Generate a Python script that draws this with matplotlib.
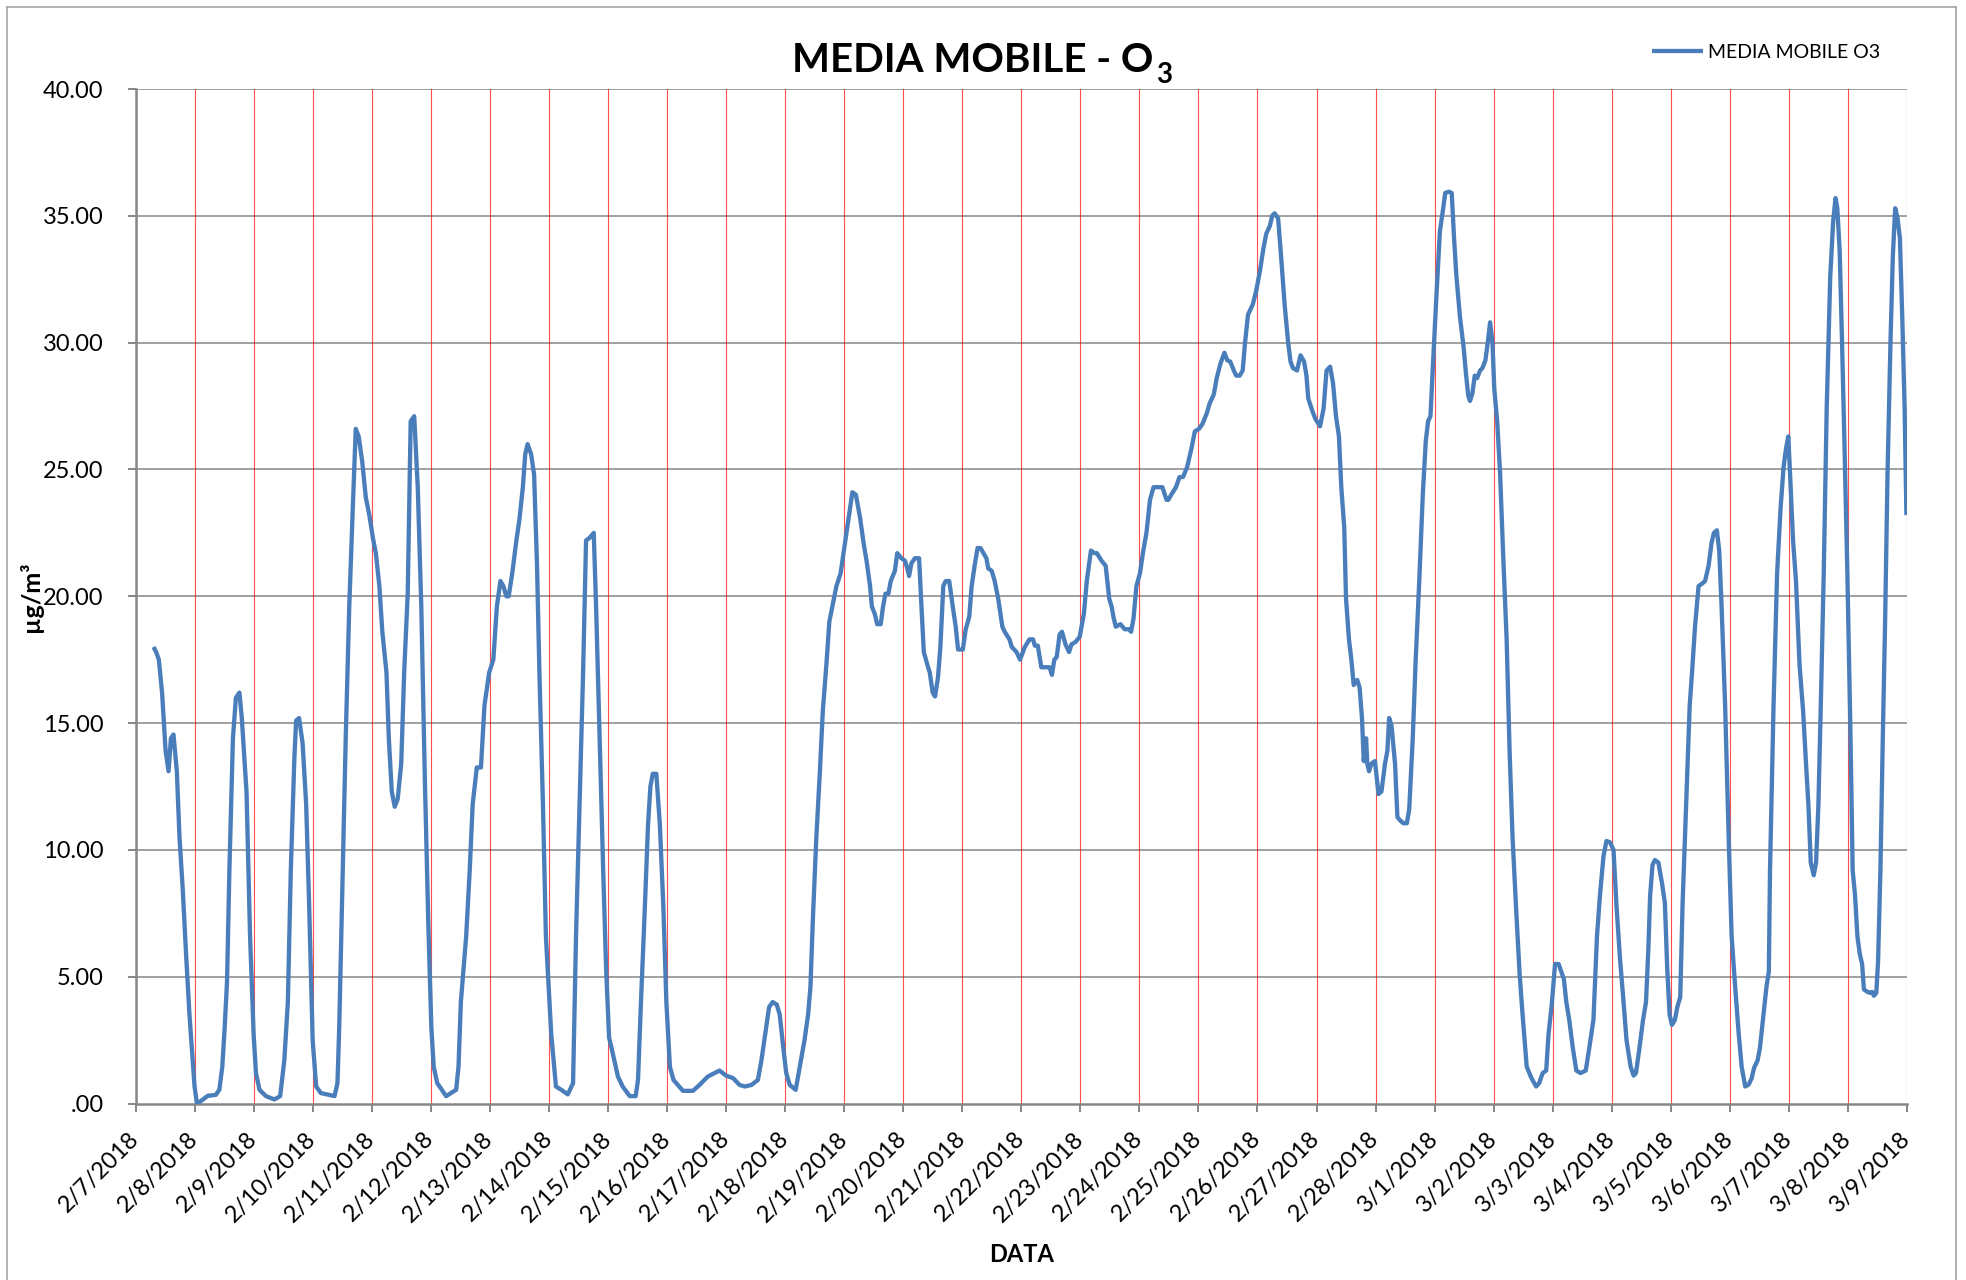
import matplotlib
matplotlib.use("Agg")
import matplotlib.pyplot as plt
from matplotlib.lines import Line2D
import pandas as pd

# ---------------- data ----------------
start_date = "2018-02-07"
# time offsets in days from 2/7/2018 00:00
day_offset = [
    0.305, 0.35, 0.395, 0.45, 0.51, 0.56, 0.60, 0.643, 0.70, 0.745, 0.80, 0.857, 0.914, 0.96, 1.0, 1.04,
    1.11, 1.22, 1.36, 1.42, 1.47, 1.51, 1.55, 1.59, 1.65, 1.70, 1.76, 1.80, 1.88, 1.94, 2.0, 2.04,
    2.10, 2.21, 2.35, 2.45, 2.52, 2.58, 2.63, 2.69, 2.72, 2.77, 2.83, 2.89, 2.94, 3.0, 3.06, 3.14,
    3.28, 3.37, 3.42, 3.45, 3.51, 3.56, 3.62, 3.68, 3.73, 3.78, 3.84, 3.90, 3.96, 4.02, 4.07, 4.13,
    4.18, 4.25, 4.29, 4.34, 4.39, 4.44, 4.50, 4.55, 4.61, 4.66, 4.72, 4.78, 4.84, 4.90, 4.96, 5.01,
    5.05, 5.11, 5.15, 5.26, 5.34, 5.43, 5.47, 5.51, 5.60, 5.66, 5.71, 5.78, 5.85, 5.91, 5.99, 6.06,
    6.12, 6.18, 6.23, 6.28, 6.32, 6.38, 6.45, 6.50, 6.56, 6.60, 6.64, 6.70, 6.75, 6.80, 6.84, 6.90,
    6.95, 7.04, 7.12, 7.21, 7.32, 7.41, 7.46, 7.52, 7.58, 7.63, 7.69, 7.76, 7.80, 7.86, 7.92, 7.97,
    8.02, 8.08, 8.17, 8.25, 8.37, 8.47, 8.51, 8.56, 8.62, 8.68, 8.72, 8.76, 8.82, 8.88, 8.94, 8.99,
    9.05, 9.11, 9.27, 9.44, 9.55, 9.69, 9.89, 10.0, 10.12, 10.23, 10.32, 10.43, 10.54, 10.60, 10.65, 10.73,
    10.79, 10.86, 10.91, 10.97, 11.02, 11.08, 11.18, 11.25, 11.33, 11.39, 11.43, 11.47, 11.53, 11.59, 11.64, 11.70,
    11.75, 11.81, 11.87, 11.94, 11.99, 12.07, 12.14, 12.20, 12.27, 12.33, 12.38, 12.44, 12.47, 12.52, 12.56, 12.62,
    12.66, 12.70, 12.75, 12.79, 12.86, 12.90, 12.97, 13.03, 13.07, 13.10, 13.14, 13.20, 13.27, 13.31, 13.35, 13.41,
    13.45, 13.50, 13.54, 13.59, 13.63, 13.68, 13.72, 13.78, 13.84, 13.89, 13.93, 14.01, 14.06, 14.12, 14.16, 14.21,
    14.26, 14.31, 14.36, 14.41, 14.44, 14.50, 14.55, 14.61, 14.68, 14.72, 14.80, 14.84, 14.92, 14.98, 15.06, 15.14,
    15.20, 15.23, 15.28, 15.34, 15.42, 15.48, 15.52, 15.56, 15.60, 15.65, 15.69, 15.75, 15.81, 15.85, 15.92, 15.99,
    16.06, 16.11, 16.18, 16.24, 16.28, 16.36, 16.43, 16.49, 16.53, 16.56, 16.60, 16.68, 16.75, 16.82, 16.86, 16.90,
    16.95, 17.01, 17.06, 17.12, 17.18, 17.24, 17.32, 17.39, 17.46, 17.49, 17.54, 17.62, 17.68, 17.74, 17.81, 17.88,
    17.94, 18.01, 18.07, 18.14, 18.19, 18.26, 18.31, 18.37, 18.44, 18.49, 18.54, 18.60, 18.64, 18.70, 18.75, 18.79,
    18.84, 18.92, 18.98, 19.04, 19.10, 19.15, 19.21, 19.25, 19.29, 19.35, 19.41, 19.46, 19.52, 19.56, 19.60, 19.67,
    19.73, 19.79, 19.83, 19.86, 19.93, 19.98, 20.06, 20.12, 20.17, 20.23, 20.28, 20.33, 20.38, 20.42, 20.47, 20.50,
    20.55, 20.59, 20.63, 20.69, 20.73, 20.77, 20.80, 20.84, 20.86, 20.89, 20.93, 20.99, 21.05, 21.10, 21.16, 21.20,
    21.23, 21.27, 21.33, 21.37, 21.40, 21.47, 21.53, 21.57, 21.63, 21.68, 21.74, 21.80, 21.85, 21.89, 21.93, 21.98,
    22.03, 22.09, 22.14, 22.18, 22.24, 22.29, 22.33, 22.37, 22.43, 22.49, 22.53, 22.57, 22.60, 22.64, 22.68, 22.72,
    22.77, 22.81, 22.86, 22.90, 22.94, 22.98, 23.01, 23.06, 23.11, 23.16, 23.22, 23.27, 23.32, 23.38, 23.44, 23.49,
    23.56, 23.64, 23.72, 23.77, 23.83, 23.89, 23.93, 23.98, 24.04, 24.10, 24.19, 24.23, 24.28, 24.34, 24.40, 24.47,
    24.56, 24.62, 24.69, 24.75, 24.80, 24.86, 24.91, 24.97, 25.03, 25.08, 25.14, 25.20, 25.25, 25.32, 25.37, 25.41,
    25.47, 25.53, 25.58, 25.62, 25.65, 25.69, 25.73, 25.79, 25.85, 25.90, 25.94, 25.98, 26.02, 26.07, 26.11, 26.16,
    26.20, 26.26, 26.32, 26.36, 26.41, 26.47, 26.53, 26.58, 26.64, 26.69, 26.73, 26.78, 26.82, 26.86, 26.92, 26.98,
    27.03, 27.09, 27.15, 27.20, 27.26, 27.32, 27.37, 27.41, 27.47, 27.51, 27.57, 27.62, 27.66, 27.68, 27.74, 27.80,
    27.86, 27.91, 27.95, 27.99, 28.03, 28.07, 28.12, 28.18, 28.24, 28.29, 28.33, 28.37, 28.42, 28.46, 28.50, 28.54,
    28.59, 28.64, 28.70, 28.75, 28.79, 28.82, 28.86, 28.90, 28.94, 28.99, 29.04, 29.08, 29.12, 29.16, 29.20, 29.24,
    29.27, 29.33, 29.38, 29.41, 29.44, 29.48, 29.51, 29.55, 29.59, 29.63, 29.67, 29.72, 29.76, 29.80, 29.84, 29.88,
    29.92, 29.96, 29.99,
]
o3_moving_avg = [
    18.0, 17.8, 17.5, 16.2, 13.9, 13.1, 14.4, 14.55, 13.1, 10.5, 8.45, 5.86, 3.5, 1.97, 0.67, 0.0,
    0.1, 0.3, 0.34, 0.54, 1.45, 3.0, 4.8, 9.2, 14.4, 16.0, 16.2, 15.2, 12.3, 6.6, 2.75, 1.2,
    0.54, 0.29, 0.16, 0.29, 1.7, 4.0, 9.2, 13.6, 15.1, 15.2, 14.2, 11.8, 7.9, 2.5, 0.67, 0.41,
    0.34, 0.29, 0.8, 3.0, 9.2, 14.4, 19.6, 23.5, 26.6, 26.3, 25.3, 23.9, 23.2, 22.3, 21.7, 20.4,
    18.6, 17.0, 14.4, 12.3, 11.7, 12.0, 13.4, 17.0, 20.1, 26.9, 27.1, 24.3, 19.6, 12.8, 7.0, 3.0,
    1.45, 0.8, 0.67, 0.29, 0.41, 0.54, 1.45, 4.0, 6.6, 9.2, 11.8, 13.25, 13.25, 15.7, 17.0, 17.5,
    19.6, 20.6, 20.4, 20.0, 20.0, 20.9, 22.2, 23.0, 24.3, 25.6, 26.0, 25.6, 24.8, 21.2, 17.0, 11.8,
    6.6, 2.75, 0.67, 0.54, 0.36, 0.8, 6.6, 11.8, 17.0, 22.2, 22.3, 22.5, 19.6, 14.4, 9.2, 5.3,
    2.6, 2.0, 1.06, 0.67, 0.29, 0.29, 0.93, 4.0, 7.4, 11.0, 12.5, 13.0, 13.0, 11.0, 7.7, 4.0,
    1.45, 0.93, 0.5, 0.5, 0.73, 1.06, 1.3, 1.1, 1.0, 0.73, 0.67, 0.73, 0.93, 1.7, 2.5, 3.8,
    4.0, 3.9, 3.5, 2.2, 1.2, 0.73, 0.54, 1.45, 2.5, 3.5, 4.6, 7.2, 10.5, 13.1, 15.5, 17.3,
    19.0, 19.7, 20.4, 20.9, 21.7, 23.0, 24.1, 24.0, 23.1, 22.1, 21.4, 20.4, 19.6, 19.3, 18.9, 18.9,
    19.6, 20.1, 20.1, 20.6, 21.0, 21.7, 21.5, 21.4, 21.1, 20.8, 21.3, 21.5, 21.5, 19.6, 17.8, 17.3,
    17.0, 16.2, 16.05, 16.8, 18.0, 20.4, 20.6, 20.6, 19.6, 18.8, 17.9, 17.9, 18.7, 19.2, 20.4, 21.2,
    21.9, 21.9, 21.7, 21.5, 21.1, 21.0, 20.6, 19.9, 18.8, 18.6, 18.3, 18.0, 17.8, 17.5, 18.0, 18.3,
    18.3, 18.05, 18.05, 17.2, 17.2, 17.2, 16.9, 17.5, 17.6, 18.5, 18.6, 18.1, 17.8, 18.1, 18.2, 18.4,
    19.3, 20.6, 21.8, 21.7, 21.7, 21.4, 21.2, 19.9, 19.6, 19.2, 18.8, 18.9, 18.7, 18.7, 18.6, 19.1,
    20.4, 20.9, 21.7, 22.5, 23.8, 24.3, 24.3, 24.3, 23.8, 23.8, 24.0, 24.3, 24.7, 24.7, 25.1, 25.8,
    26.5, 26.6, 26.8, 27.2, 27.6, 27.95, 28.6, 29.15, 29.6, 29.3, 29.25, 28.9, 28.7, 28.7, 28.9, 30.0,
    31.1, 31.5, 32.05, 32.8, 33.7, 34.3, 34.6, 35.0, 35.1, 34.9, 33.1, 31.5, 30.0, 29.25, 29.0, 28.9,
    29.5, 29.25, 28.7, 27.8, 27.3, 27.0, 26.7, 27.4, 28.9, 29.05, 28.4, 27.1, 26.3, 24.3, 22.7, 19.9,
    18.3, 17.5, 16.5, 16.7, 16.4, 15.2, 13.5, 14.4, 13.4, 13.1, 13.4, 13.5, 12.2, 12.3, 13.4, 13.9,
    15.2, 14.9, 13.4, 11.3, 11.2, 11.05, 11.05, 11.6, 14.4, 17.5, 20.6, 24.0, 26.1, 26.9, 27.1, 29.5,
    31.8, 34.4, 35.2, 35.9, 35.95, 35.9, 34.1, 32.6, 31.0, 29.85, 28.8, 27.9, 27.7, 28.0, 28.7, 28.6,
    28.9, 29.0, 29.3, 30.0, 30.8, 30.0, 28.2, 26.9, 24.8, 21.7, 18.3, 13.9, 10.5, 7.7, 5.1, 3.5,
    1.45, 1.0, 0.67, 0.8, 1.2, 1.3, 2.75, 3.8, 5.5, 5.5, 4.9, 4.0, 3.3, 2.2, 1.3, 1.2,
    1.3, 2.2, 3.3, 6.6, 8.2, 9.75, 10.35, 10.3, 10.0, 7.8, 5.7, 4.0, 2.5, 1.45, 1.1, 1.2,
    2.2, 3.3, 4.0, 6.1, 8.2, 9.4, 9.6, 9.5, 8.7, 7.9, 5.3, 3.5, 3.1, 3.3, 3.8, 4.2,
    7.9, 11.8, 15.7, 17.0, 18.8, 20.4, 20.5, 20.6, 21.2, 22.1, 22.5, 22.6, 21.8, 19.6, 15.7, 10.5,
    6.6, 4.6, 2.75, 1.45, 0.67, 0.75, 1.0, 1.4, 1.7, 2.2, 3.5, 4.6, 5.2, 9.2, 15.7, 20.9,
    23.5, 25.1, 25.8, 26.3, 24.3, 22.2, 20.6, 17.3, 15.5, 13.4, 11.8, 9.5, 9.0, 9.5, 11.8, 15.7,
    20.9, 27.4, 32.6, 34.8, 35.7, 35.3, 33.6, 30.0, 26.1, 20.9, 14.9, 9.2, 8.2, 6.6, 5.9, 5.5,
    4.5, 4.4, 4.36, 4.4, 4.25, 4.36, 5.6, 9.2, 14.4, 19.1, 24.8, 30.0, 33.4, 35.3, 34.9, 34.1,
    31.0, 27.4, 23.2,
]
series_name = "MEDIA MOBILE O3"
title_main = "MEDIA MOBILE - O"
title_sub = "3"
y_label = "µg/m³"
x_label = "DATA"
y_ticks = [0, 5, 10, 15, 20, 25, 30, 35, 40]
y_tick_labels = [".00", "5.00", "10.00", "15.00", "20.00", "25.00", "30.00", "35.00", "40.00"]
tick_dates = pd.date_range("2018-02-07", "2018-03-09", freq="D")
x_tick_labels = [f"{d.month}/{d.day}/{d.year}" for d in tick_dates]

# ---------------- figure ----------------
FONT = ["Lato", "DejaVu Sans"]
plt.rcParams["font.family"] = FONT

W, H = 1966, 1280
fig = plt.figure(figsize=(W / 100, H / 100), dpi=100)
fig.patch.set_facecolor("white")

left, right, top, bottom = 135.5, 1907, 89, 1103.5
ax = fig.add_axes([left / W, 1 - bottom / H, (right - left) / W, (bottom - top) / H])

times = pd.to_datetime(start_date) + pd.to_timedelta(day_offset, unit="D")
ax.plot(times, o3_moving_avg, color="#4A7EBB", lw=3.1, solid_joinstyle="round",
        solid_capstyle="butt", label=series_name, zorder=5)

ax.set_xlim(tick_dates[0], tick_dates[-1])
ax.set_ylim(0, 40)

# grid lines
for yv in y_ticks[1:]:
    ax.axhline(yv, color="#868686", lw=1.1, zorder=1)
for d in tick_dates[1:]:
    ax.axvline(d, color="#FF0000", lw=0.8, alpha=0.7, zorder=1)

ax.set_yticks(y_ticks)
ax.set_yticklabels(y_tick_labels)
ax.set_xticks(tick_dates)
ax.set_xticklabels(x_tick_labels)

ax.tick_params(axis="y", direction="out", length=6, width=1.4, color="#868686",
               labelsize=17, pad=17)
ax.tick_params(axis="x", direction="out", length=6, width=1.4, color="#868686",
               labelsize=17, pad=17)
plt.setp(ax.get_xticklabels(), rotation=45, ha="right", va="center",
         rotation_mode="anchor")

for s in ["top", "right"]:
    ax.spines[s].set_visible(False)
for s in ["left", "bottom"]:
    ax.spines[s].set_color("#868686")
    ax.spines[s].set_linewidth(1.8)

# title with a lowered subscript
t1 = fig.text(0, 1 - 72 / H, title_main, ha="left", va="baseline",
              fontsize=29, fontweight="bold")
t2 = fig.text(0, 1 - 83 / H, title_sub, ha="left", va="baseline",
              fontsize=20, fontweight="bold")
fig.canvas.draw()
r = fig.canvas.get_renderer()
w1 = t1.get_window_extent(r).width
w2 = t2.get_window_extent(r).width
x0 = 982 - (w1 + w2 + 2) / 2
t1.set_x(x0 / W)
t2.set_x((x0 + w1 + 2) / W)

fig.text(31 / W, 1 - (top + bottom) / 2 / H, y_label, rotation=90, ha="center",
         va="center", fontsize=18, fontweight="bold")
fig.text((left + right) / 2 / W, 1 - 1255 / H, x_label, ha="center", va="center",
         fontsize=17, fontweight="bold")

# legend
leg = ax.legend(loc="center left", bbox_to_anchor=(1652 / W, 1 - 52 / H),
                bbox_transform=fig.transFigure, frameon=False, fontsize=14,
                handlelength=2.6, handletextpad=0.3, borderpad=0, borderaxespad=0)

# outer chart border
bc = "#A6A6A6"
fig.add_artist(Line2D([7 / W, 1956 / W], [1 - 7 / H, 1 - 7 / H], color=bc, lw=1.2,
                      transform=fig.transFigure))
fig.add_artist(Line2D([7 / W, 7 / W], [0, 1 - 7 / H], color=bc, lw=1.2,
                      transform=fig.transFigure))
fig.add_artist(Line2D([1956 / W, 1956 / W], [0, 1 - 7 / H], color=bc, lw=1.2,
                      transform=fig.transFigure))

fig.savefig("out.png", dpi=100)
